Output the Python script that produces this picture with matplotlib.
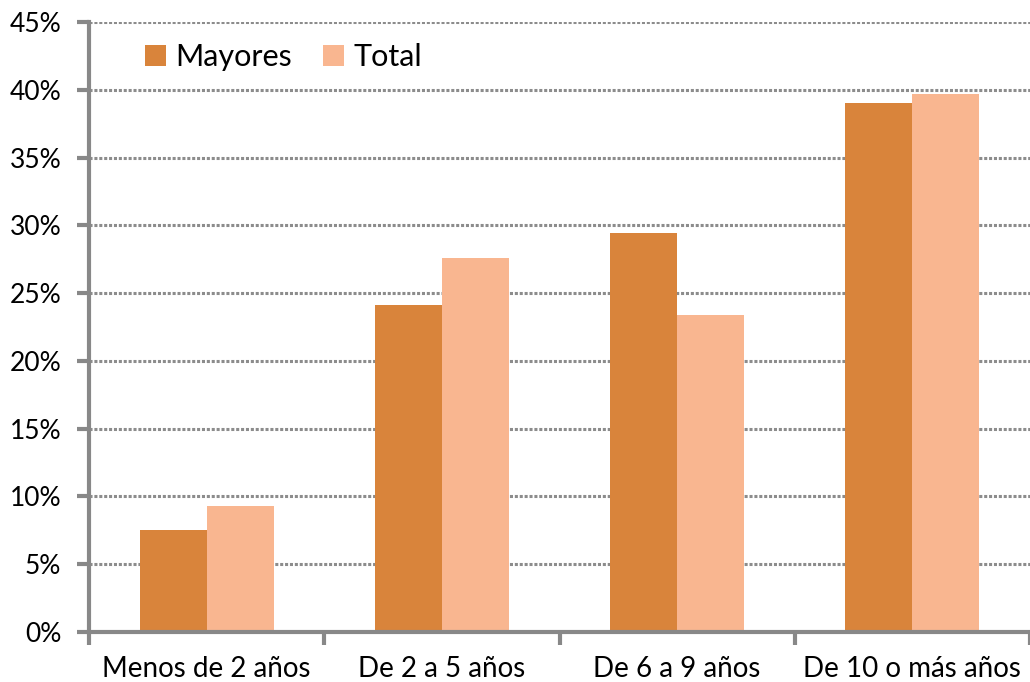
import matplotlib
matplotlib.use("Agg")
import numpy as np
from matplotlib import pyplot as plt
from matplotlib.ticker import PercentFormatter

categories = ["Menos de 2 años", "De 2 a 5 años", "De 6 a 9 años", "De 10 o más años"]
mayores = [7.5, 24.1, 29.4, 39.0]
total = [9.3, 27.6, 23.4, 39.7]
yticks = [0, 5, 10, 15, 20, 25, 30, 35, 40, 45]

plt.rcParams["font.family"] = ["Lato", "DejaVu Sans"]

fig = plt.figure(figsize=(10.3, 6.82), dpi=100)
ax = fig.add_axes([89 / 1030, 1 - 632 / 682, 1 - 89 / 1030, (632 - 22) / 682])

x = np.arange(len(categories))
w = 0.285
ax.bar(x - w / 2, mayores, w, color="#D9843B", label="Mayores", zorder=3)
ax.bar(x + w / 2, total, w, color="#F9B690", label="Total", zorder=3)

ax.set_xlim(-0.5, len(categories) - 0.5)
ax.set_ylim(0, 45)
ax.set_yticks(yticks)
ax.yaxis.set_major_formatter(PercentFormatter(decimals=0))
ax.set_xticks(x)
ax.set_xticklabels(categories)
ax.set_xticks(np.arange(len(categories) + 1) - 0.5, minor=True)

ax.tick_params(axis="x", which="major", length=0, pad=17, labelsize=20)
ax.tick_params(axis="x", which="minor", length=9, width=3, color="#888888")
ax.tick_params(axis="y", length=9, width=3, color="#888888", labelsize=19, pad=11)

ax.grid(axis="y", color="#8c8c8c", linestyle=(0, (1, 0.6)), linewidth=2.2, zorder=1)
for s in ["top", "right"]:
    ax.spines[s].set_visible(False)
for s in ["left", "bottom"]:
    ax.spines[s].set_color("#888888")
    ax.spines[s].set_linewidth(3)
    ax.spines[s].set_zorder(4)

ax.legend(loc="upper left", bbox_to_anchor=(0.03, 1.01), ncol=2, frameon=False,
          fontsize=22, handlelength=0.7, handleheight=0.7, handletextpad=0.3,
          columnspacing=1.0)

plt.savefig("out.png", dpi=100)
plt.close()
